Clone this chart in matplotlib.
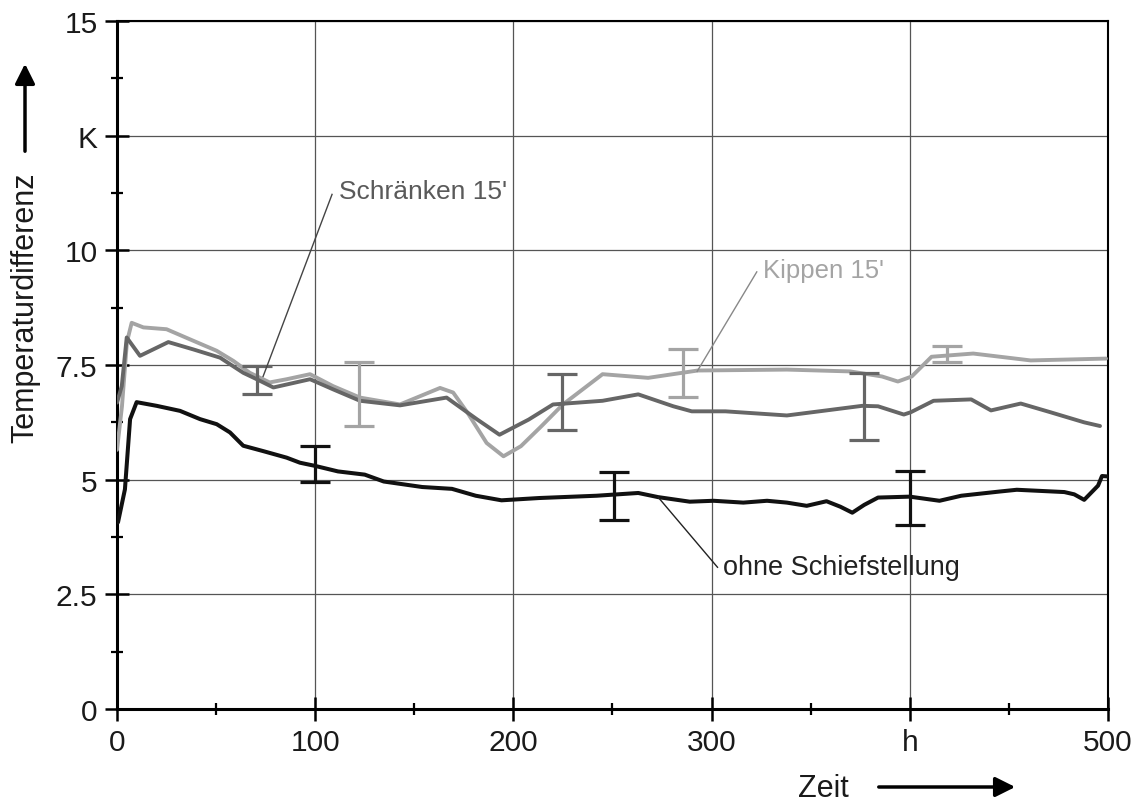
import matplotlib
matplotlib.use("Agg")
import numpy as np
import matplotlib.pyplot as plt
from matplotlib.ticker import FixedLocator, MultipleLocator

plt.rcParams['font.family'] = ['Liberation Sans', 'DejaVu Sans']

# ohne Schiefstellung (schwarz)
x_ohne = [0.5, 4, 6.6, 9.9, 20, 31.8, 41.9, 50.3, 57, 63.7, 74, 85.6, 92.3, 100,
          111.5, 125, 134.6, 154, 169, 181, 194, 213, 242, 263, 273, 289, 301,
          316, 328, 338, 348, 358, 365, 371, 377, 384, 400, 415, 426, 445, 454,
          478, 483, 488, 495, 497, 500]
y_ohne = [4.07, 4.79, 6.32, 6.69, 6.61, 6.5, 6.32, 6.21, 6.03, 5.74, 5.62, 5.48,
          5.37, 5.3, 5.18, 5.11, 4.96, 4.84, 4.80, 4.65, 4.55, 4.6, 4.65, 4.71,
          4.62, 4.52, 4.54, 4.5, 4.54, 4.5, 4.43, 4.53, 4.41, 4.28, 4.45, 4.61,
          4.63, 4.54, 4.65, 4.74, 4.78, 4.73, 4.68, 4.56, 4.87, 5.08, 5.07]

# Schränken 15' (dunkelgrau)
x_schr = [0, 2.4, 4.9, 11.6, 25.9, 38.5, 52, 63.7, 70.5, 78.9, 97.4, 109, 122.6,
          142.8, 166.3, 181.5, 193, 207.7, 220, 245, 263, 280.7, 290, 307, 338,
          376, 384, 397, 400.5, 412, 431, 441, 456, 471, 488, 496]
y_schr = [6.68, 7.04, 8.1, 7.7, 8.0, 7.84, 7.66, 7.33, 7.19, 7.01, 7.19, 6.97,
          6.72, 6.62, 6.79, 6.32, 5.98, 6.31, 6.64, 6.72, 6.86, 6.6, 6.49, 6.49,
          6.4, 6.61, 6.6, 6.42, 6.47, 6.72, 6.75, 6.51, 6.66, 6.47, 6.25, 6.17]

# Kippen 15' (hellgrau)
x_kipp = [0, 2.5, 5, 7.4, 13.3, 25, 36.8, 50.3, 58.7, 67, 77, 85.6, 97.4, 109,
          122.6, 142.8, 163, 169.6, 177, 186.5, 195, 203.8, 214, 225, 245, 268,
          293, 338, 370, 386, 394, 401, 411, 432, 461, 499]
y_kipp = [5.65, 6.6, 8.0, 8.42, 8.32, 8.28, 8.06, 7.81, 7.59, 7.33, 7.12, 7.19,
          7.3, 7.04, 6.79, 6.64, 7.0, 6.9, 6.45, 5.8, 5.51, 5.73, 6.16, 6.64,
          7.3, 7.22, 7.38, 7.4, 7.36, 7.25, 7.14, 7.25, 7.68, 7.75, 7.6, 7.64]

# Streubereiche: x, unten, oben
eb_ohne_x = [100, 251, 400]
eb_ohne_lo = [4.96, 4.12, 4.02]
eb_ohne_hi = [5.74, 5.16, 5.19]
eb_schr_x = [70.5, 224.6, 376.8]
eb_schr_lo = [6.86, 6.08, 5.87]
eb_schr_hi = [7.48, 7.3, 7.33]
eb_kipp_x = [122, 285.5, 419]
eb_kipp_lo = [6.16, 6.81, 7.57]
eb_kipp_hi = [7.56, 7.85, 7.91]

y_ticks = [0, 2.5, 5, 7.5, 10, 12.5, 15]
y_labels = ['0', '2.5', '5', '7.5', '10', 'K', '15']
x_ticks = [0, 100, 200, 300, 400, 500]
x_labels = ['0', '100', '200', '300', 'h', '500']

c_black = '#111111'
c_dark = '#666666'
c_light = '#a4a4a4'

fig = plt.figure(figsize=(11.46, 8.03), dpi=100)
ax = fig.add_axes([0.1021, 0.1158, 0.8647, 0.8568])


def bars(x, lo, hi, color):
    lo = np.array(lo)
    hi = np.array(hi)
    mid = (lo + hi) / 2
    err = (hi - lo) / 2
    ax.errorbar(x, mid, yerr=err, fmt='none', ecolor=color, elinewidth=2.3,
                capsize=10.5, capthick=2.3, zorder=4)


ax.plot(x_kipp, y_kipp, color=c_light, lw=2.8, solid_joinstyle='round',
        solid_capstyle='round', zorder=3)
ax.plot(x_schr, y_schr, color=c_dark, lw=2.8, solid_joinstyle='round',
        solid_capstyle='round', zorder=3)
ax.plot(x_ohne, y_ohne, color=c_black, lw=2.9, solid_joinstyle='round',
        solid_capstyle='round', zorder=5)
bars(eb_kipp_x, eb_kipp_lo, eb_kipp_hi, c_light)
bars(eb_schr_x, eb_schr_lo, eb_schr_hi, c_dark)
bars(eb_ohne_x, eb_ohne_lo, eb_ohne_hi, c_black)

ax.set_xlim(0, 500)
ax.set_ylim(0, 15)
ax.xaxis.set_major_locator(FixedLocator(x_ticks))
ax.set_xticklabels(x_labels)
ax.yaxis.set_major_locator(FixedLocator(y_ticks))
ax.set_yticklabels(y_labels)
ax.xaxis.set_minor_locator(MultipleLocator(50))
ax.yaxis.set_minor_locator(MultipleLocator(1.25))
ax.tick_params(which='major', direction='inout', length=17, width=1.8,
               labelsize=21.5, pad=5.5, color='black', labelcolor='#1a1a1a')
ax.tick_params(which='minor', direction='inout', length=9, width=1.6, color='black')
ax.grid(True, which='major', color='#555555', lw=0.9, zorder=1)

for s in ['left', 'bottom']:
    ax.spines[s].set_linewidth(2.2)
for s in ['top', 'right']:
    ax.spines[s].set_linewidth(1.5)

# Beschriftungen mit Hinweislinien
ax.plot([108.5, 73.7], [11.22, 7.25], color='#444444', lw=1.0, zorder=6)
ax.text(112, 11.29, "Schränken 15'", fontsize=19, color='#5a5a5a', va='center', ha='left')
ax.plot([322.8, 292.7], [9.53, 7.36], color='#888888', lw=1.0, zorder=6)
ax.text(326, 9.57, "Kippen 15'", fontsize=18.5, color=c_light, va='center', ha='left')
ax.plot([273, 303], [4.62, 3.09], color='#222222', lw=1.0, zorder=6)
ax.text(306, 3.1, "ohne Schiefstellung", fontsize=19.5, color='#222222', va='center', ha='left')

# Achsentitel mit Pfeilen
fig.text(25 / 1146, 1 - 308 / 803, 'Temperaturdifferenz', rotation=90,
         fontsize=22, ha='center', va='center', color='#1a1a1a')
fig.patches.append(matplotlib.patches.FancyArrowPatch(
    (25 / 1146, 1 - 155 / 803), (25 / 1146, 1 - 62 / 803),
    transform=fig.transFigure, arrowstyle='-|>', mutation_scale=30,
    lw=2.5, color='black'))
fig.text(823 / 1146, 1 - 789 / 803, 'Zeit', fontsize=22, ha='center', va='center',
         color='#1a1a1a')
fig.patches.append(matplotlib.patches.FancyArrowPatch(
    (876 / 1146, 1 - 788 / 803), (1018 / 1146, 1 - 788 / 803),
    transform=fig.transFigure, arrowstyle='-|>', mutation_scale=30,
    lw=2.5, color='black'))

fig.savefig('out.png', dpi=100)
